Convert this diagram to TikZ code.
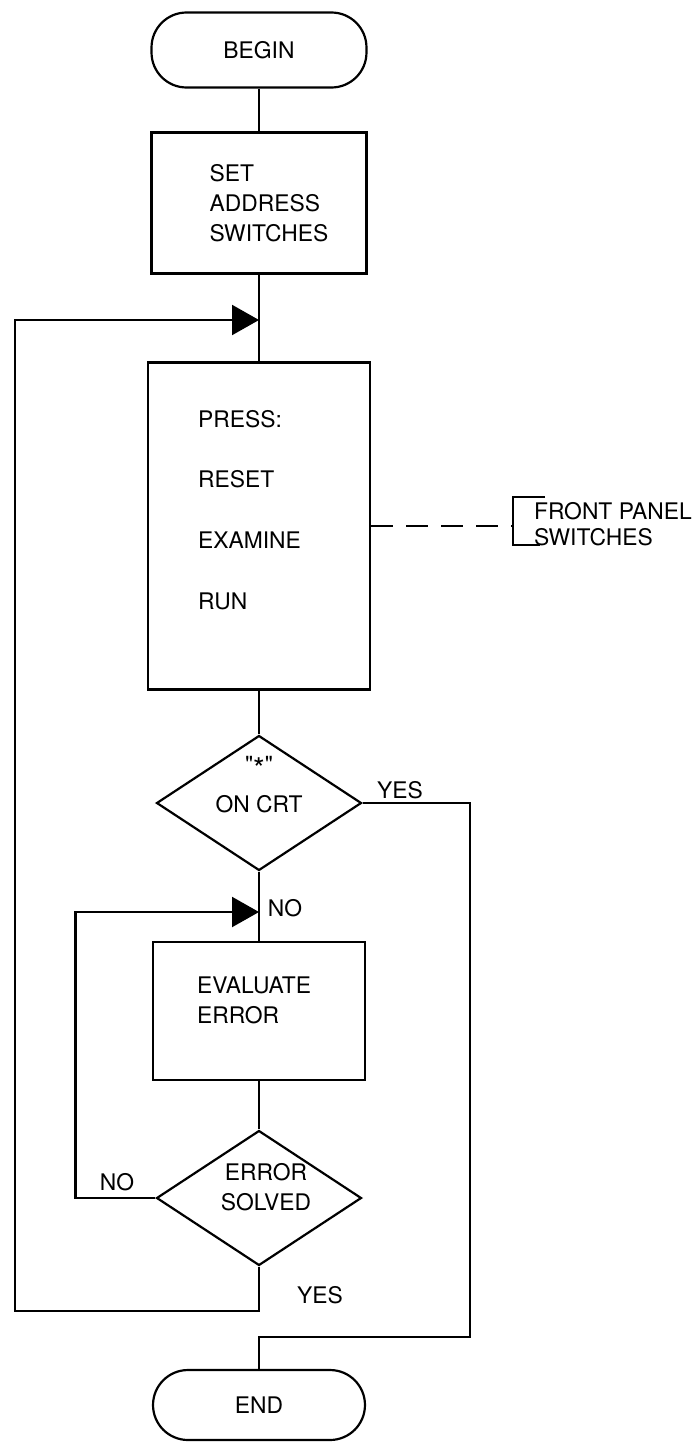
\documentclass[tikz,border=0pt]{standalone}
\usepackage{fontspec}
\setmainfont{TeX Gyre Heros}
\usetikzlibrary{positioning,arrows.meta,shapes.geometric}

\begin{document}
\begin{tikzpicture}[
  x=0.02cm, y=-0.02cm,
  line width=1.25pt,
  every node/.style={font=\fontsize{13}{17}\selectfont},
  startstop/.style={draw, rectangle, rounded corners=7mm,
    minimum width=4.3cm, minimum height=1.5cm},
  process/.style={draw, rectangle, align=left, minimum width=4.3cm},
  decision/.style={draw, diamond, inner sep=0pt,
    minimum width=4.1cm, minimum height=2.7cm},
  lbl/.style={inner sep=0pt},
  arr/.style={-{Triangle[length=5.4mm,width=6mm]}}
]
\useasboundingbox (0,0) rectangle (699,1443);

% main column
\node[startstop] (begin) at (259,50) {BEGIN};
\node[process, minimum height=2.82cm] (setaddr) at (259,203) {\hspace*{4mm}SET\\\hspace*{4mm}ADDRESS\\\hspace*{4mm}SWITCHES};
\coordinate (looptop) at (259,320);
\node[process, minimum width=4.44cm, minimum height=6.54cm] (press) at (259,526) {};
\node[lbl, align=left, anchor=west] (presstxt) at (197,510)
  {PRESS:\\[6.2mm]RESET\\[6.2mm]EXAMINE\\[6.2mm]RUN};
\node[decision] (crt) at (259,803) {};
\node[lbl, align=center] (crttxt) at (259,785)
  {\textquotedbl{\fontsize{17}{17}\selectfont\raisebox{-0.4ex}{*}}\textquotedbl\\[2mm]ON CRT};
\coordinate (noloop) at (259,912);
\node[process, minimum width=4.24cm, minimum height=2.76cm] (eval) at (259,1011) {};
\node[lbl, align=left] (evaltxt) at (254,1000) {EVALUATE\\ERROR};
\node[decision] (solved) at (259,1198) {};
\node[lbl, align=center] (solvedtxt) at (266,1187) {ERROR\\SOLVED};
\coordinate (join) at (259,1337);
\node[startstop, minimum width=4.24cm, minimum height=1.4cm] (end) at (259,1405) {END};

% side note
\node[lbl, align=left, anchor=west, font=\fontsize{13}{14.5}\selectfont] (panel) at (533,524)
  {FRONT PANEL\\SWITCHES};
\coordinate (brk) at (513,526);
\draw[dash pattern=on 4.4mm off 2.6mm] (press.east) -- (brk);
\draw (545,497) -- (513,497) -- (513,545) -- (540,545);

% connectors
\draw (begin) -- (setaddr);
\draw (setaddr) -- (press);
\draw (press) -- (crt);
\draw (crt) -- (eval);
\draw (eval) -- (solved);
\coordinate (outer) at (15,320);
\coordinate (yesturn) at (470,803);
\draw[arr] (solved.south) -- ++(0,44) -| (outer) -- (looptop);
\draw[arr] (solved.west) -- ++(-80,0) |- (noloop);
\draw (crt.east) -- (yesturn) |- (join) -- (end.north);

% labels
\node[lbl] (yes1) at (400,790) {YES};
\node[lbl] (no1) at (285,908) {NO};
\node[lbl] (no2) at (117,1182) {NO};
\node[lbl] (yes2) at (320,1295) {YES};

\end{tikzpicture}
\end{document}
